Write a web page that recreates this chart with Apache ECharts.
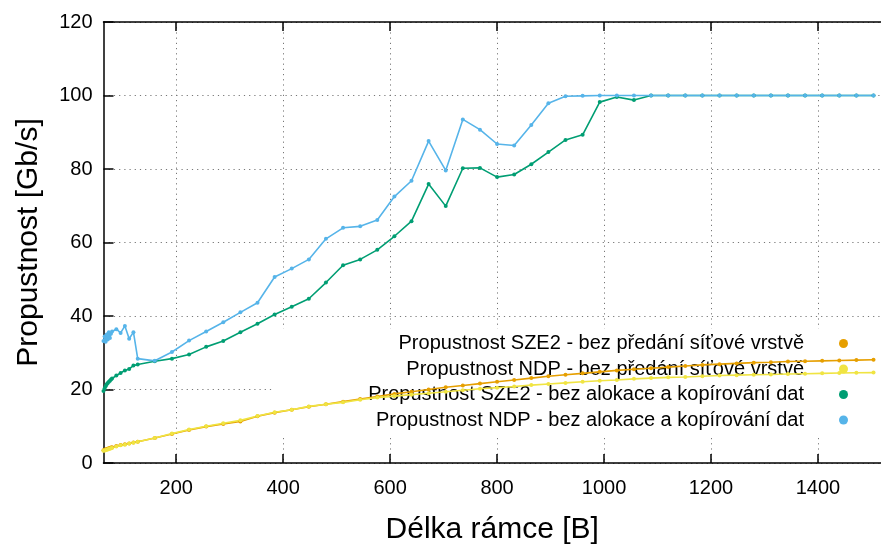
<!DOCTYPE html>
<html><head><meta charset="utf-8">
<script src="https://cdn.jsdelivr.net/npm/echarts@6/dist/echarts.min.js"></script>
<style>html,body{margin:0;padding:0;background:#fff}#c{width:881px;height:550px}</style>
</head><body><div id="c"></div>
<script>
// Frame length [B]
const frameLen = [64,66,68,70,72,74,76,78,80,
  88,96,104,112,120,128,
  160,192,224,256,288,320,352,384,416,448,
  480,512,544,576,608,640,672,704,736,768,
  800,832,864,896,928,960,992,1024,1056,1088,
  1120,1152,1184,1216,1248,1280,1312,1344,1376,1408,
  1440,1472,1504];

// Propustnost SZE2 - bez předání síťové vrstvě (orange)
const sze2NoPass = [3.5,3.6,3.7,3.8,3.9,4.0,4.1,4.2,4.3,
  4.6,4.9,5.1,5.3,5.6,5.8,
  6.8,7.9,9.0,9.9,10.6,11.3,12.7,13.7,14.5,15.3,
  16.0,16.7,17.4,18.1,18.8,19.4,20.0,20.6,21.1,21.6,
  22.1,22.6,23.1,23.6,24.0,24.4,24.8,25.2,25.5,25.8,
  26.1,26.4,26.7,26.9,27.1,27.3,27.4,27.6,27.7,27.8,
  27.9,28.0,28.1];

// Propustnost NDP - bez předání síťové vrstvě (yellow)
const ndpNoPass = [3.3,3.4,3.5,3.6,3.7,3.8,3.9,4.0,4.1,
  4.5,4.8,5.0,5.3,5.5,5.8,
  6.8,8.0,9.1,10.0,10.8,11.6,12.8,13.8,14.5,15.4,
  16.0,16.5,17.2,17.8,18.2,18.6,19.0,19.4,19.8,20.2,
  20.5,20.8,21.2,21.5,21.8,22.1,22.4,22.6,22.9,23.1,
  23.3,23.4,23.6,23.8,23.9,24.0,24.1,24.2,24.3,24.4,
  24.5,24.55,24.6];

// Propustnost SZE2 - bez alokace a kopírování dat (green)
const sze2NoAlloc = [19.6,20.3,20.9,21.4,21.8,22.1,22.4,22.7,23.0,
  23.8,24.5,25.2,25.6,26.5,26.8,
  27.7,28.4,29.5,31.6,33.2,35.6,37.9,40.4,42.5,44.7,
  49.1,53.8,55.4,58.0,61.7,65.8,75.9,69.9,80.2,80.3,
  77.8,78.5,81.3,84.6,87.9,89.3,98.2,99.6,98.75,100,
  100,100,100,100,100,100,100,100,100,100,
  100,100,100];

// Propustnost NDP - bez alokace a kopírování dat (blue)
const ndpNoAlloc = [33.2,34.4,33.0,35.0,33.6,35.6,34.0,35.2,35.8,
  36.4,35.4,37.3,33.8,35.6,28.4,
  27.8,30.2,33.3,35.8,38.3,41.0,43.6,50.6,52.9,55.4,
  61.0,64.0,64.4,66.1,72.5,76.8,87.6,79.6,93.5,90.7,
  86.8,86.4,92.0,97.9,99.8,99.9,100,100,100,100,
  100,100,100,100,100,100,100,100,100,100,
  100,100,100];

const xTickValues = [200,400,600,800,1000,1200,1400];
const seriesNames = [
  'Propustnost SZE2 - bez předání síťové vrstvě',
  'Propustnost NDP - bez předání síťové vrstvě',
  'Propustnost SZE2 - bez alokace a kopírování dat',
  'Propustnost NDP - bez alokace a kopírování dat'
];
const seriesValues = [sze2NoPass, ndpNoPass, sze2NoAlloc, ndpNoAlloc];
const colors = ['#e69f00', '#f0e442', '#009e73', '#56b4e9'];

const FONT = 'Liberation Sans';
const gridLine = {show: true, lineStyle: {color: '#777', width: 1, type: [1.2, 4]}};

const chart = echarts.init(document.getElementById('c'), null, {renderer: 'canvas'});
const legendTops = [333.5, 359, 384.5, 410];

chart.setOption({
  animation: false,
  backgroundColor: '#fff',
  textStyle: {fontFamily: FONT},
  grid: {left: 103.5, top: 22, width: 783, height: 447, containLabel: false},
  graphic: [{
    type: 'rect', z: 1,
    shape: {x: 273, y: 329, width: 620, height: 105},
    style: {fill: '#fff'}
  }],
  xAxis: [{
    type: 'value', min: 64, max: 1518, position: 'bottom',
    name: 'Délka rámce [B]', nameLocation: 'middle', nameGap: 52,
    nameTextStyle: {fontSize: 30, color: '#000', fontFamily: FONT},
    axisLine: {show: true, onZero: false, lineStyle: {color: '#000', width: 1.5}},
    axisTick: {show: true, inside: true, length: 9, customValues: xTickValues, lineStyle: {color: '#000', width: 1.5}},
    axisLabel: {fontSize: 20, color: '#000', margin: 15, fontFamily: FONT, customValues: xTickValues,
      formatter: v => String(v)},
    splitLine: gridLine
  }, {
    type: 'value', min: 64, max: 1518, position: 'top',
    axisLine: {show: true, onZero: false, lineStyle: {color: '#000', width: 1.5}},
    axisTick: {show: true, inside: true, length: 9, customValues: xTickValues, lineStyle: {color: '#000', width: 1.5}},
    axisLabel: {show: false},
    splitLine: {show: false}
  }],
  yAxis: {
    type: 'value', min: 0, max: 120, interval: 20,
    name: 'Propustnost [Gb/s]', nameLocation: 'middle', nameGap: 60, nameRotate: 90,
    nameTextStyle: {fontSize: 30, color: '#000', fontFamily: FONT},
    axisLine: {show: true, onZero: false, lineStyle: {color: '#000', width: 1.5}},
    axisTick: {show: true, inside: true, length: 10, lineStyle: {color: '#000', width: 1.5}},
    axisLabel: {fontSize: 20, color: '#000', margin: 11, fontFamily: FONT},
    splitLine: gridLine
  },
  legend: seriesNames.map((n, i) => ({
    data: [n], right: 33, top: legendTops[i], orient: 'vertical', align: 'right',
    icon: 'circle', itemWidth: 9, itemHeight: 9, padding: 0, z: 4, selectedMode: false,
    textStyle: {fontSize: 20, color: '#000', fontFamily: FONT, padding: [0, 30, 0, 0]}
  })),
  series: seriesNames.map((n, i) => ({
    name: n, type: 'line', z: 5,
    data: frameLen.map((x, k) => [x, seriesValues[i][k]]),
    symbol: 'circle', symbolSize: 4, showSymbol: true,
    color: colors[i],
    lineStyle: {width: 1.6, color: colors[i]},
    itemStyle: {color: colors[i]},
    emphasis: {disabled: true}
  }))
});
</script></body></html>
